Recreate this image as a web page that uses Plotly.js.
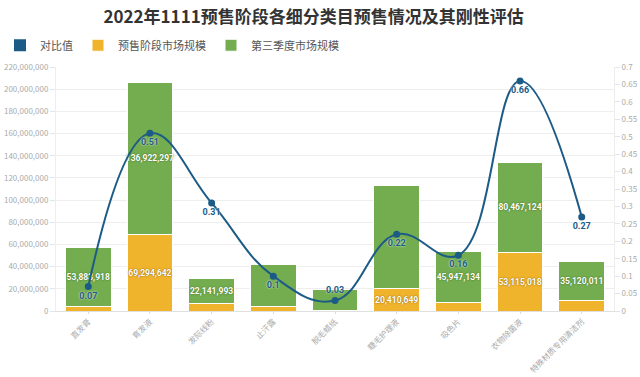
<!DOCTYPE html>
<html>
<head>
<meta charset="utf-8">
<script src="https://cdn.plot.ly/plotly-3.0.1.min.js"></script>
<style>html,body{margin:0;padding:0;background:#fff;}#chart{width:640px;height:377px;}</style>
</head>
<body>
<div id="chart"></div>
<script>
var categories = ['直发膏','育发液','发际线粉','止汗露','脱毛蜡纸','睫毛护理液','吸色片','衣物除菌液','特殊材质专用清洁剂'];
var presaleValues = [3770000, 69294642, 6860000, 3800000, 550000, 20410649, 7350000, 53115018, 9480000];
var q3Values = [53883918, 136922297, 22141993, 38000000, 18500000, 92800000, 45947134, 80467124, 35120011];
var ratioValues = [0.07, 0.51, 0.31, 0.1, 0.03, 0.22, 0.16, 0.66, 0.27];
var presaleLabelShown = [false, true, false, false, false, true, false, true, false];
var q3LabelShown = [true, true, true, false, false, false, true, true, true];
var ratioLabelSide = ['bottom center','bottom center','bottom center','bottom center','top center','bottom center','bottom center','bottom center','bottom center'];
var leftTicks = [0,20000000,40000000,60000000,80000000,100000000,120000000,140000000,160000000,180000000,200000000,220000000];

function fmt(v){ return v.toLocaleString('en-US'); }

var FONT = '"Noto Sans CJK SC", "Noto Sans", sans-serif';
var NUMFONT = 'Roboto, sans-serif';
var BLUE = '#1d5b87', YELLOW = '#f0b32c', GREEN = '#73ad4f';

var traces = [
  {
    type: 'bar', name: '对比值', x: categories, y: categories.map(function(){return null;}),
    marker: {color: BLUE}, hoverinfo: 'skip', showlegend: true
  },
  {
    type: 'bar', name: '预售阶段市场规模', x: categories, y: presaleValues,
    marker: {color: YELLOW, line: {color: '#ffffff', width: 1}},
    text: presaleValues.map(function(v,i){return presaleLabelShown[i] ? fmt(v) : '';}),
    textposition: 'inside', insidetextanchor: 'middle', constraintext: 'none', textangle: 0,
    insidetextfont: {color: '#ffffff', size: 8.5, family: NUMFONT, weight: 'bold', shadow: '0px 0px 1.5px #6a4c08'},
    hoverinfo: 'skip'
  },
  {
    type: 'bar', name: '第三季度市场规模', x: categories, y: q3Values,
    marker: {color: GREEN, line: {color: '#ffffff', width: 1}},
    text: q3Values.map(function(v,i){return q3LabelShown[i] ? fmt(v) : '';}),
    textposition: 'inside', insidetextanchor: 'middle', constraintext: 'none', textangle: 0,
    insidetextfont: {color: '#ffffff', size: 8.5, family: NUMFONT, weight: 'bold', shadow: '0px 0px 1.5px #2f5a18'},
    hoverinfo: 'skip'
  },
  {
    type: 'scatter', mode: 'lines+markers+text', name: '对比值', x: categories, y: ratioValues, yaxis: 'y2',
    line: {color: BLUE, width: 2, shape: 'spline', smoothing: 1.2},
    marker: {color: BLUE, size: 7},
    text: ratioValues.map(function(v){return String(v);}), textposition: ratioLabelSide,
    textfont: {color: BLUE, size: 9, family: NUMFONT, weight: 'bold', shadow: '0px 0px 2px #ffffff'},
    showlegend: false, hoverinfo: 'skip', cliponaxis: false
  }
];

var layout = {
  width: 640, height: 377,
  margin: {l: 56, r: 26, t: 67, b: 66},
  paper_bgcolor: '#ffffff', plot_bgcolor: '#ffffff',
  font: {family: FONT, color: '#999999', size: 8},
  title: {text: '2022年1111预售阶段各细分类目预售情况及其刚性评估', font: {family: FONT, size: 17, color: '#333333', weight: 'bold'},
          x: 0.49, xref: 'container', y: 0.955, yref: 'container', yanchor: 'middle'},
  barmode: 'stack', bargap: 0.26,
  showlegend: true,
  legend: {orientation: 'h', x: 0, xref: 'container', y: 0.88, yref: 'container', yanchor: 'middle', xanchor: 'left',
           font: {family: FONT, size: 11, color: '#555555'}, itemwidth: 30, traceorder: 'normal'},
  xaxis: {type: 'category', tickangle: -45, tickfont: {size: 8, color: '#aaaaaa'}, showline: true, linecolor: '#e0e0e0',
          ticks: 'outside', ticklen: 2, tickcolor: '#dddddd', showgrid: false, fixedrange: true},
  yaxis: {range: [0, 220000000], tickvals: leftTicks, tickformat: ',d', tickfont: {size: 8, color: '#aaaaaa'},
          showgrid: true, gridcolor: '#eeeeee', showline: true, linecolor: '#eeeeee', ticks: 'outside', ticklen: 5,
          tickcolor: '#e5e5e5', zeroline: false, fixedrange: true},
  yaxis2: {overlaying: 'y', side: 'right', range: [0, 0.7], dtick: 0.05, tick0: 0, tickfont: {size: 8, color: '#aaaaaa'},
           showgrid: false, showline: true, linecolor: '#eeeeee', ticks: 'outside', ticklen: 5, tickcolor: '#e5e5e5',
           zeroline: false, fixedrange: true}
};

Plotly.newPlot('chart', traces, layout, {displayModeBar: false, staticPlot: true});
</script>
</body>
</html>
